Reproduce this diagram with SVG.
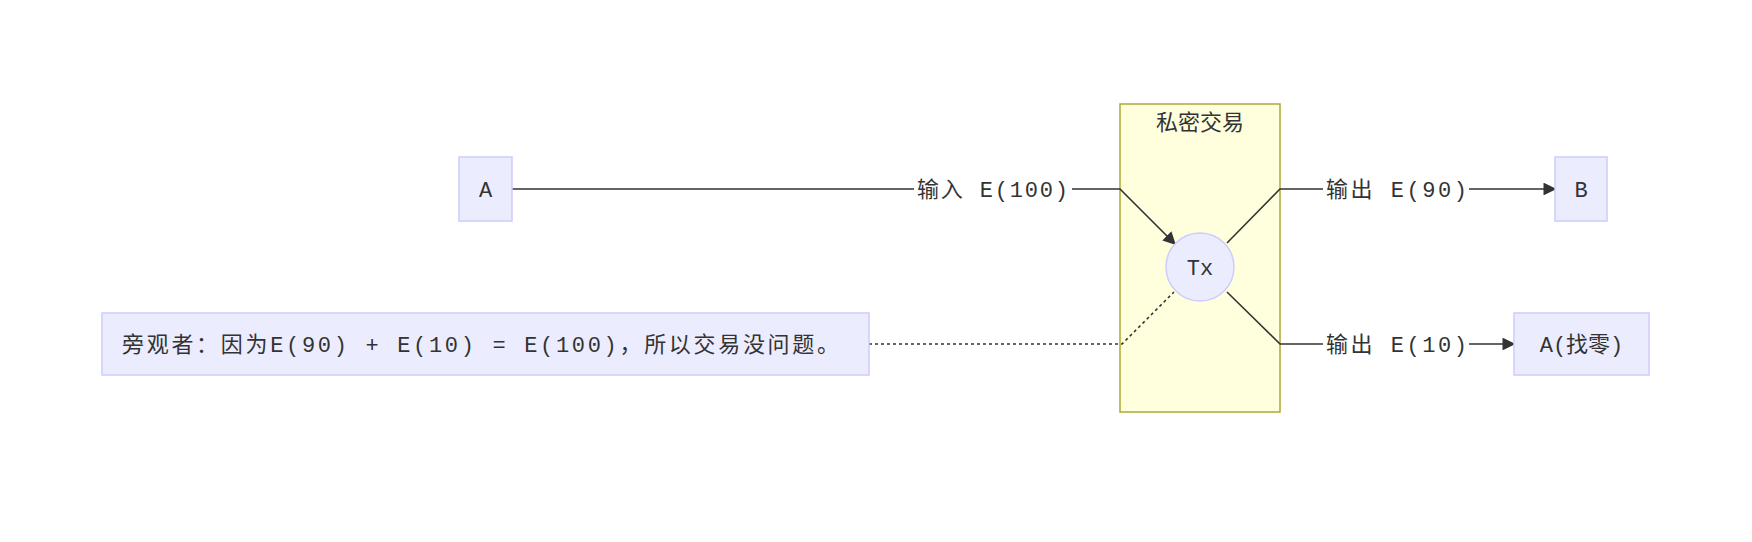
<svg xmlns="http://www.w3.org/2000/svg" width="1752" height="542" viewBox="0 0 1752 542">
<style>
.node{fill:#ECECFF;stroke:#CCCCFF;stroke-width:1.5}
.t{font-family:"Liberation Mono","Noto Sans CJK SC",monospace;font-size:22px;fill:#333}
.e{fill:none;stroke:#333;stroke-width:1.6}
.lb{fill:#fff}
</style>
<defs><marker id="ar" viewBox="0 0 10 10" refX="9" refY="5" markerWidth="8" markerHeight="8" orient="auto"><path d="M0,0L10,5L0,10z" fill="#333"/></marker></defs>
<rect width="1752" height="542" fill="#fff"/>
<g id="cluster"><rect x="1120" y="104" width="160" height="308" fill="#FFFFDE" stroke="#AAAA33" stroke-width="1.5"/><text class="t" x="1200" y="130" text-anchor="middle">私密交易</text></g>
<g id="edges">
<path class="e" d="M512,189H1120L1175,244" marker-end="url(#ar)"/>
<path class="e" d="M1227,243L1280,189H1555" marker-end="url(#ar)"/>
<path class="e" d="M1227,292L1280,344H1514" marker-end="url(#ar)"/>
<path class="e" d="M869,344H1122L1174,292" stroke-width="3" stroke-dasharray="3,3"/>
<rect class="lb" x="914" y="176" width="158" height="26"/><text class="t" x="917" y="197" textLength="151">输入 E(100)</text>
<rect class="lb" x="1323" y="176" width="146" height="26"/><text class="t" x="1326" y="197" textLength="141">输出 E(90)</text>
<rect class="lb" x="1323" y="331" width="146" height="26"/><text class="t" x="1326" y="352" textLength="141">输出 E(10)</text>
</g>
<g id="A"><rect class="node" x="459" y="157" width="53" height="64"/><text class="t" x="485.5" y="197" text-anchor="middle">A</text></g>
<g id="B"><rect class="node" x="1555" y="157" width="52" height="64"/><text class="t" x="1581" y="197" text-anchor="middle">B</text></g>
<g id="Tx"><circle class="node" cx="1200" cy="267" r="34"/><text class="t" x="1200" y="275" text-anchor="middle">Tx</text></g>
<g id="C"><rect class="node" x="1514" y="313" width="135" height="62"/><text class="t" x="1581.5" y="352" text-anchor="middle">A(找零)</text></g>
<g id="O"><rect class="node" x="102" y="313" width="767" height="62"/><text class="t" x="122" y="352" textLength="717">旁观者：因为E(90) + E(10) = E(100)，所以交易没问题。</text></g>
</svg>
